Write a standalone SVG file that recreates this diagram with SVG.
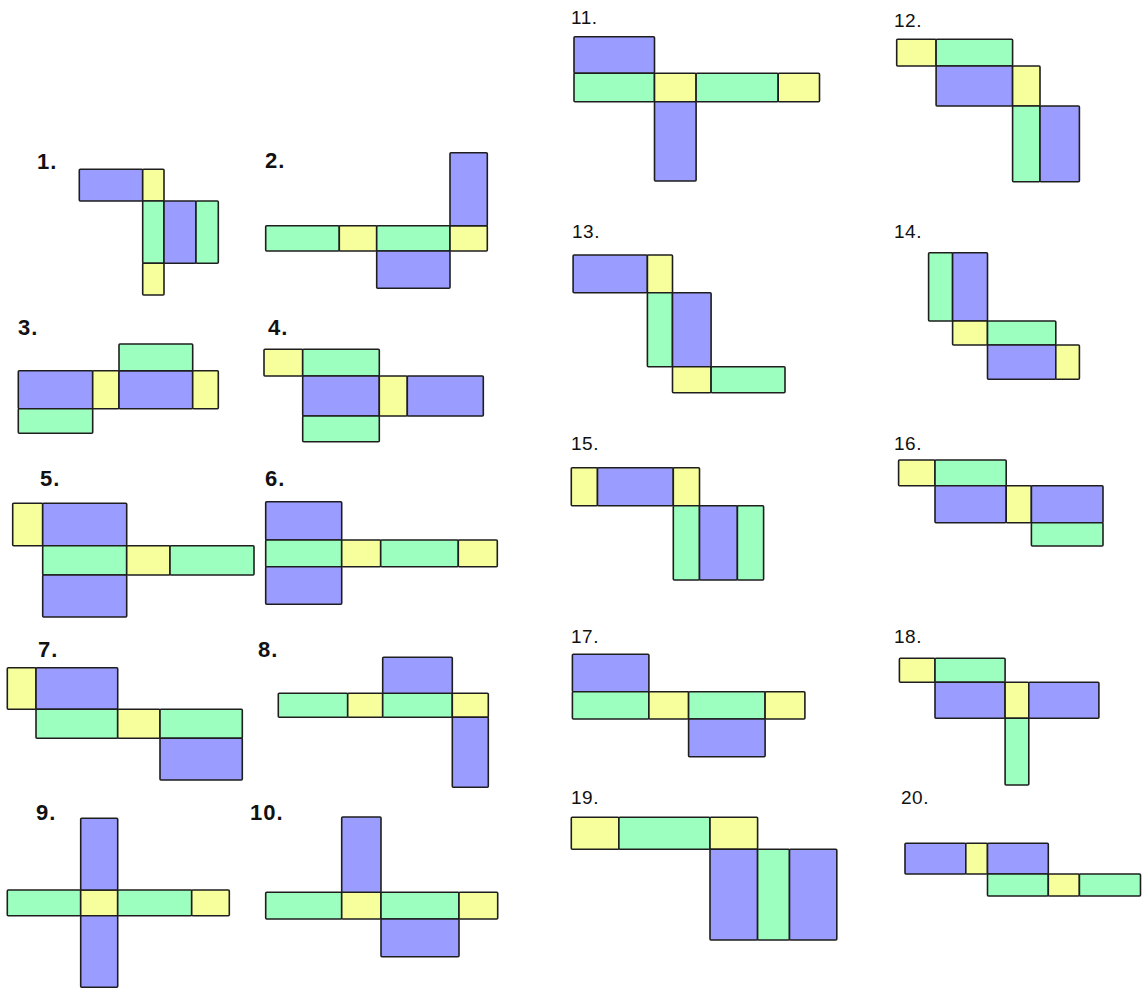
<svg xmlns="http://www.w3.org/2000/svg" width="1145" height="990" viewBox="0 0 1145 990">
<style>
rect{stroke:#1e1e1e;stroke-width:1.6;stroke-linejoin:round}
.b{fill:#9b9cff}.g{fill:#9dffbf}.y{fill:#f6ff9c}
.lb{font-family:"Liberation Sans",Arial,sans-serif;font-weight:bold;font-size:22px;letter-spacing:1px;fill:#111}
.lr{font-family:"Liberation Sans",Arial,sans-serif;font-size:19px;letter-spacing:0.5px;fill:#111}
</style>
<rect x="0" y="0" width="1145" height="990" fill="#fff" style="stroke:none"/>
<g id="net1"><text class="lb" x="37" y="168.5">1.</text>
<rect class="b" x="79.3" y="169.3" width="63.4" height="31.7" rx="1"/><rect class="y" x="142.7" y="169.3" width="21.3" height="31.7" rx="1"/><rect class="g" x="142.7" y="201" width="21.3" height="62.3" rx="1"/><rect class="b" x="164" y="201" width="32" height="62.3" rx="1"/><rect class="g" x="196" y="201" width="22.3" height="62.3" rx="1"/><rect class="y" x="142.7" y="263.3" width="21.3" height="31.7" rx="1"/></g>
<g id="net2"><text class="lb" x="265" y="168">2.</text>
<rect class="g" x="265.7" y="225.7" width="73.6" height="25.3" rx="1"/><rect class="y" x="339.3" y="225.7" width="37.4" height="25.3" rx="1"/><rect class="g" x="376.7" y="225.7" width="73.3" height="25.3" rx="1"/><rect class="y" x="450" y="225.7" width="37.3" height="25.3" rx="1"/><rect class="b" x="450" y="152.7" width="37.3" height="73" rx="1"/><rect class="b" x="376.7" y="251" width="73.3" height="37.3" rx="1"/></g>
<g id="net3"><text class="lb" x="18" y="335">3.</text>
<rect class="b" x="18.3" y="370.7" width="74.4" height="38" rx="1"/><rect class="g" x="18.3" y="408.7" width="74.4" height="24.6" rx="1"/><rect class="y" x="92.7" y="370.7" width="26.3" height="38" rx="1"/><rect class="b" x="119" y="370.7" width="73.7" height="38" rx="1"/><rect class="g" x="119" y="344" width="73.7" height="26.7" rx="1"/><rect class="y" x="192.7" y="370.7" width="25.6" height="38" rx="1"/></g>
<g id="net4"><text class="lb" x="268" y="335">4.</text>
<rect class="y" x="264" y="349.3" width="38.7" height="26.7" rx="1"/><rect class="g" x="302.7" y="349.3" width="76.6" height="26.7" rx="1"/><rect class="b" x="302.7" y="376" width="76.6" height="40" rx="1"/><rect class="g" x="302.7" y="416" width="76.6" height="25.7" rx="1"/><rect class="y" x="379.3" y="376" width="28" height="40" rx="1"/><rect class="b" x="407.3" y="376" width="76" height="40" rx="1"/></g>
<g id="net5"><text class="lb" x="40" y="486">5.</text>
<rect class="y" x="12.7" y="503.3" width="30" height="42.4" rx="1"/><rect class="b" x="42.7" y="503.3" width="84" height="42.4" rx="1"/><rect class="g" x="42.7" y="545.7" width="84" height="29.3" rx="1"/><rect class="y" x="126.7" y="545.7" width="43.3" height="29.3" rx="1"/><rect class="g" x="170" y="545.7" width="84" height="29.3" rx="1"/><rect class="b" x="42.7" y="575" width="84" height="42" rx="1"/></g>
<g id="net6"><text class="lb" x="265" y="486">6.</text>
<rect class="b" x="265.7" y="501.7" width="76" height="38.3" rx="1"/><rect class="g" x="265.7" y="540" width="76" height="26.7" rx="1"/><rect class="y" x="341.7" y="540" width="39" height="26.7" rx="1"/><rect class="g" x="380.7" y="540" width="77.6" height="26.7" rx="1"/><rect class="y" x="458.3" y="540" width="39" height="26.7" rx="1"/><rect class="b" x="265.7" y="566.7" width="76" height="37.6" rx="1"/></g>
<g id="net7"><text class="lb" x="38" y="657">7.</text>
<rect class="y" x="7.3" y="667.7" width="28.7" height="41.6" rx="1"/><rect class="b" x="36" y="667.7" width="81.7" height="41.6" rx="1"/><rect class="g" x="36" y="709.3" width="81.7" height="29" rx="1"/><rect class="y" x="117.7" y="709.3" width="42.3" height="29" rx="1"/><rect class="g" x="160" y="709.3" width="82.3" height="29" rx="1"/><rect class="b" x="160" y="738.3" width="82.3" height="41.7" rx="1"/></g>
<g id="net8"><text class="lb" x="258" y="657">8.</text>
<rect class="g" x="278.3" y="693.3" width="69.4" height="24" rx="1"/><rect class="y" x="347.7" y="693.3" width="35" height="24" rx="1"/><rect class="g" x="382.7" y="693.3" width="69.6" height="24" rx="1"/><rect class="y" x="452.3" y="693.3" width="36" height="24" rx="1"/><rect class="b" x="382.7" y="657.3" width="69.6" height="36" rx="1"/><rect class="b" x="452.3" y="717.3" width="36" height="70" rx="1"/></g>
<g id="net9"><text class="lb" x="36" y="820">9.</text>
<rect class="g" x="7.3" y="890" width="73.4" height="25.7" rx="1"/><rect class="y" x="80.7" y="890" width="37" height="25.7" rx="1"/><rect class="g" x="117.7" y="890" width="74" height="25.7" rx="1"/><rect class="y" x="191.7" y="890" width="37.6" height="25.7" rx="1"/><rect class="b" x="80.7" y="818.3" width="37" height="71.7" rx="1"/><rect class="b" x="80.7" y="915.7" width="37" height="71.6" rx="1"/></g>
<g id="net10"><text class="lb" x="250" y="820">10.</text>
<rect class="g" x="265.7" y="892.3" width="76" height="26.7" rx="1"/><rect class="y" x="341.7" y="892.3" width="39.3" height="26.7" rx="1"/><rect class="g" x="381" y="892.3" width="78" height="26.7" rx="1"/><rect class="y" x="459" y="892.3" width="38.7" height="26.7" rx="1"/><rect class="b" x="341.7" y="817" width="39.3" height="75.3" rx="1"/><rect class="b" x="381" y="919" width="78" height="37.7" rx="1"/></g>
<g id="net11"><text class="lr" x="571" y="23.5">11.</text>
<rect class="b" x="574" y="36.7" width="80.5" height="36.6" rx="1"/><rect class="g" x="574" y="73.3" width="80.5" height="28.4" rx="1"/><rect class="y" x="654.5" y="73.3" width="41.6" height="28.4" rx="1"/><rect class="g" x="696.1" y="73.3" width="82.1" height="28.4" rx="1"/><rect class="y" x="778.2" y="73.3" width="41.3" height="28.4" rx="1"/><rect class="b" x="654.5" y="101.7" width="41.6" height="79.3" rx="1"/></g>
<g id="net12"><text class="lr" x="894" y="26.5">12.</text>
<rect class="y" x="896.7" y="39.3" width="39.4" height="26.7" rx="1"/><rect class="g" x="936.1" y="39.3" width="76.5" height="26.7" rx="1"/><rect class="b" x="936.1" y="66" width="76.5" height="40" rx="1"/><rect class="y" x="1012.6" y="66" width="27.4" height="40" rx="1"/><rect class="g" x="1012.6" y="106" width="27.4" height="75.7" rx="1"/><rect class="b" x="1040" y="106" width="39.4" height="75.7" rx="1"/></g>
<g id="net13"><text class="lr" x="572" y="238">13.</text>
<rect class="b" x="573.1" y="255" width="74.3" height="37.7" rx="1"/><rect class="y" x="647.4" y="255" width="25.1" height="37.7" rx="1"/><rect class="g" x="647.4" y="292.7" width="25.1" height="74" rx="1"/><rect class="b" x="672.5" y="292.7" width="38.6" height="74" rx="1"/><rect class="y" x="672.5" y="366.7" width="38.6" height="26" rx="1"/><rect class="g" x="711.1" y="366.7" width="73.9" height="26" rx="1"/></g>
<g id="net14"><text class="lr" x="894" y="238">14.</text>
<rect class="g" x="928.6" y="252.7" width="24" height="68.3" rx="1"/><rect class="b" x="952.6" y="252.7" width="34.9" height="68.3" rx="1"/><rect class="y" x="952.6" y="321" width="34.9" height="24" rx="1"/><rect class="g" x="987.5" y="321" width="68.3" height="24" rx="1"/><rect class="b" x="987.5" y="345" width="68.3" height="34.3" rx="1"/><rect class="y" x="1055.8" y="345" width="23.6" height="34.3" rx="1"/></g>
<g id="net15"><text class="lr" x="571" y="450">15.</text>
<rect class="y" x="571.3" y="467.7" width="26.2" height="38" rx="1"/><rect class="b" x="597.5" y="467.7" width="75.8" height="38" rx="1"/><rect class="y" x="673.3" y="467.7" width="26.2" height="38" rx="1"/><rect class="g" x="673.3" y="505.7" width="26.2" height="74.3" rx="1"/><rect class="b" x="699.5" y="505.7" width="37.9" height="74.3" rx="1"/><rect class="g" x="737.4" y="505.7" width="26.2" height="74.3" rx="1"/></g>
<g id="net16"><text class="lr" x="894" y="450">16.</text>
<rect class="y" x="898.6" y="460" width="36.4" height="25.7" rx="1"/><rect class="g" x="935" y="460" width="71.2" height="25.7" rx="1"/><rect class="b" x="935" y="485.7" width="71.2" height="37" rx="1"/><rect class="y" x="1006.2" y="485.7" width="25.2" height="37" rx="1"/><rect class="b" x="1031.4" y="485.7" width="71.6" height="37" rx="1"/><rect class="g" x="1031.4" y="522.7" width="71.6" height="23.3" rx="1"/></g>
<g id="net17"><text class="lr" x="571" y="643">17.</text>
<rect class="b" x="572.4" y="654.3" width="76.5" height="37.4" rx="1"/><rect class="g" x="572.4" y="691.7" width="76.5" height="27.3" rx="1"/><rect class="y" x="648.9" y="691.7" width="39.7" height="27.3" rx="1"/><rect class="g" x="688.6" y="691.7" width="76.5" height="27.3" rx="1"/><rect class="y" x="765.1" y="691.7" width="39.8" height="27.3" rx="1"/><rect class="b" x="688.6" y="719" width="76.5" height="37.7" rx="1"/></g>
<g id="net18"><text class="lr" x="894" y="643">18.</text>
<rect class="y" x="899.4" y="658.3" width="35.6" height="24" rx="1"/><rect class="g" x="935" y="658.3" width="70.1" height="24" rx="1"/><rect class="b" x="935" y="682.3" width="70.1" height="36" rx="1"/><rect class="y" x="1005.1" y="682.3" width="23.7" height="36" rx="1"/><rect class="b" x="1028.8" y="682.3" width="70.1" height="36" rx="1"/><rect class="g" x="1005.1" y="718.3" width="23.7" height="66.7" rx="1"/></g>
<g id="net19"><text class="lr" x="571" y="803.5">19.</text>
<rect class="y" x="571.3" y="817.3" width="47.6" height="32" rx="1"/><rect class="g" x="618.9" y="817.3" width="91.1" height="32" rx="1"/><rect class="y" x="710" y="817.3" width="47.6" height="32" rx="1"/><rect class="b" x="710" y="849.3" width="47.6" height="90.7" rx="1"/><rect class="g" x="757.6" y="849.3" width="31.9" height="90.7" rx="1"/><rect class="b" x="789.5" y="849.3" width="47.3" height="90.7" rx="1"/></g>
<g id="net20"><text class="lr" x="901" y="803.5">20.</text>
<rect class="b" x="905" y="843.3" width="60.8" height="30.7" rx="1"/><rect class="y" x="965.8" y="843.3" width="21.7" height="30.7" rx="1"/><rect class="b" x="987.5" y="843.3" width="60.8" height="30.7" rx="1"/><rect class="g" x="987.5" y="874" width="60.8" height="22" rx="1"/><rect class="y" x="1048.3" y="874" width="31.1" height="22" rx="1"/><rect class="g" x="1079.4" y="874" width="61.1" height="22" rx="1"/></g>
<g id="connectors"></g>
</svg>
